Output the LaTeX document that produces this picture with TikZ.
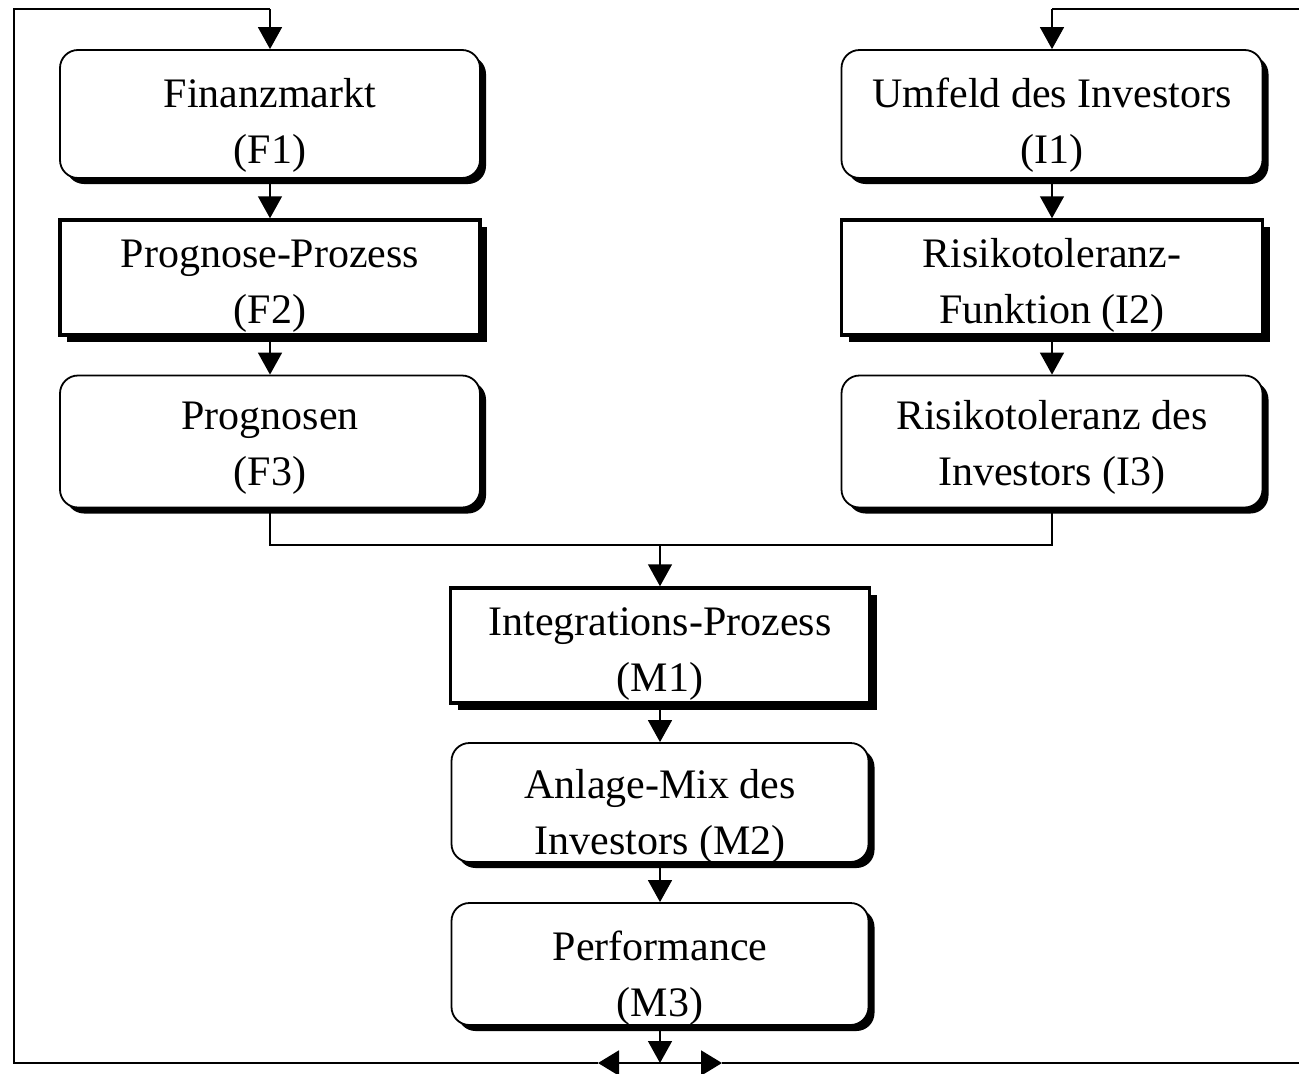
\documentclass[tikz,border=0pt]{standalone}
\usepackage{fontspec}
\setmainfont{Liberation Serif}
\usetikzlibrary{arrows.meta,shadows}
\begin{document}
\begin{tikzpicture}[x=1pt,y=-1pt,
  every node/.style={font=\fontsize{42}{56}\selectfont, align=center, inner sep=0pt, text depth=0pt},
  rbox/.style={draw, line width=1.8pt, rounded corners=18pt, fill=white, minimum width=420pt,
    drop shadow={shadow xshift=6pt, shadow yshift=-6pt, fill=black, opacity=1}},
  sbox/.style={draw, line width=3.5pt, fill=white, minimum width=420pt,
    drop shadow={shadow xshift=7pt, shadow yshift=-7pt, fill=black, opacity=1}},
  conn/.style={line width=1.5pt},
  loopline/.style={line width=2pt},
  arr/.style={line width=1.5pt, -{Triangle[length=22pt,width=24pt]}},
  barr/.style={line width=2pt, -{Triangle[length=21pt,width=25pt]}}]
\useasboundingbox (0,0) rectangle (1299,1074);

% left column
\node[rbox, minimum height=128pt, text height=98pt] (F1) at (270,114) {Finanzmarkt\\(F1)};
\node[sbox, minimum height=115pt, text height=91pt] (F2) at (270,277.5) {Prognose-Prozess\\(F2)};
\node[rbox, minimum height=132pt, text height=87pt] (F3) at (270,441.5) {Prognosen\\(F3)};
% right column
\node[rbox, minimum width=421pt, minimum height=128pt, text height=98pt] (I1) at (1052,114) {Umfeld des Investors\\(I1)};
\node[sbox, minimum width=421pt, minimum height=115pt, text height=91pt] (I2) at (1052,277.5) {Risikotoleranz-\\Funktion (I2)};
\node[rbox, minimum width=421pt, minimum height=132pt, text height=87pt] (I3) at (1052,441.5) {Risikotoleranz des\\Investors (I3)};
% middle column
\node[sbox, minimum width=419pt, minimum height=115pt, text height=91pt] (M1) at (660,645.5) {Integrations-Prozess\\(M1)};
\node[rbox, minimum width=417pt, minimum height=119pt, text height=103pt] (M2) at (660,802.5) {Anlage-Mix des\\Investors (M2)};
\node[rbox, minimum width=417pt, minimum height=122pt, text height=104pt] (M3) at (660,964) {Performance\\(M3)};

% coordinates
\coordinate (jl) at (270,545);
\coordinate (jm) at (660,545);
\coordinate (jr) at (1052,545);
\coordinate (tl) at (14,9);
\coordinate (tf) at (270,9);
\coordinate (ti) at (1052,9);
\coordinate (tr) at (1299,9);
\coordinate (bl) at (14,1063);
\coordinate (bm) at (660,1063);
\coordinate (ba) at (598,1063);
\coordinate (bb) at (722,1063);
\coordinate (br) at (1299,1063);

% column connectors
\draw[arr] (F1.south) -- (F2.north);
\draw[arr] (F2.south) -- (F3.north);
\draw[arr] (I1.south) -- (I2.north);
\draw[arr] (I2.south) -- (I3.north);
\draw[conn] (F3.south) -- (jl) -- (jr) -- (I3.south);
\draw[arr] (jm) -- (M1.north);
\draw[arr] (M1.south) -- (M2.north);
\draw[arr] (M2.south) -- (M3.north);

% feedback loop
\draw[arr] (M3.south) -- (bm);
\draw[barr] (bm) -- (ba);
\draw[barr] (bm) -- (bb);
\draw[loopline] (ba) -- (bl) -- (tl) -- (tf);
\draw[arr] (tf) -- (F1.north);
\draw[loopline] (bb) -- (br);
\draw[loopline] (tr) -- (ti);
\draw[arr] (ti) -- (I1.north);
\end{tikzpicture}
\end{document}
